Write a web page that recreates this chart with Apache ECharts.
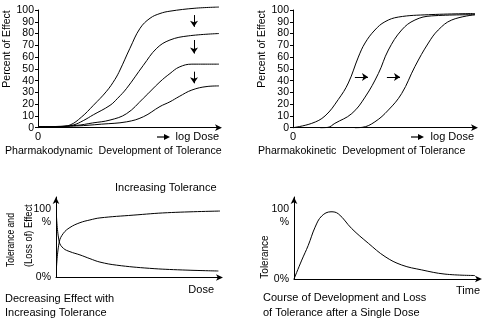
<!DOCTYPE html>
<html>
<head>
<meta charset="utf-8">
<script src="https://cdn.jsdelivr.net/npm/echarts@6/dist/echarts.min.js"></script>
<style>
  html, body { margin: 0; padding: 0; background: #fff; }
  #chart { width: 488px; height: 321px; }
</style>
</head>
<body>
<div id="chart"></div>
<script>
// Pharmacodynamic tolerance: effect vs. log dose, each repeat lowers the maximum effect
const pdCurve1 = [[0, 1], [12, 1], [17.7, 2.3], [24, 9], [30.6, 19], [37.9, 31], [42.5, 41], [45.3, 49], [50.8, 67.5], [56.4, 84.5], [61.9, 93], [67.4, 97], [72.9, 99], [86.7, 101.5], [100, 102.5]];
const pdCurve2 = [[0, 1], [12, 1], [19.5, 2.3], [25, 6], [30.6, 11], [39.8, 19], [44, 25], [49, 33.5], [58.2, 53], [65.6, 67.5], [72.9, 74.5], [83, 78], [100, 80]];
const pdCurve3 = [[0, 0.5], [21.4, 2], [30, 4], [39.8, 6.5], [49, 12], [58.2, 25], [67.4, 39], [72.9, 46], [78, 51.5], [85, 54], [100, 54]];
const pdCurve4 = [[0, 0.5], [21.4, 1.5], [35, 3], [49, 5], [58.2, 9.3], [67.4, 18], [72.9, 22], [78, 26.5], [85, 32], [93.4, 35], [100, 35.5]];
// down arrows between successive curves: [x, from, to]
const pdArrows = [[86.2, 95.7, 85.7], [86.2, 74.5, 63], [86.2, 47.6, 37.7]];

// Pharmacokinetic tolerance: same maximum, curve shifts to higher doses
const pkCurve1 = [[0, 0], [10.3, 3.7], [17.6, 10], [24.9, 24], [30.4, 38], [35.9, 60], [39.6, 72], [45, 83], [50.5, 90], [57.9, 94], [74.4, 96], [100, 97]];
const pkCurve2 = [[15, 0], [19.2, 0.3], [23, 3.7], [32.3, 12], [39.6, 26], [46.9, 46], [52.4, 66], [59.7, 83], [67, 91.5], [76.2, 95], [100, 96]];
const pkCurve3 = [[34, 0], [38, 0.3], [45, 5], [52.4, 15], [59.7, 29], [67, 52], [74.4, 72], [79.8, 83], [87.2, 91.5], [100, 96]];
// right arrows between curves: [y, from, to]
const pkArrows = [[43, 34, 41.2], [43, 51.6, 58.8]];

// Tolerance rises while the effect falls with continued dosing
const toleranceRise = [[0.3, 15], [2, 52], [4.5, 64.5], [8.5, 73], [14.6, 80], [20.7, 84], [26.8, 87], [47, 91], [68, 94.6], [100, 97]];
const effectFall = [[0.3, 89], [2, 52], [4.5, 42.6], [8.5, 37.7], [14.6, 33], [20.7, 27.5], [26.8, 22.5], [37, 18], [57, 13.4], [77, 11], [99, 9.5]];

// Tolerance after a single dose: quick build-up, slow decay
const singleDose = [[0, 0], [4.2, 27], [7.7, 48], [11.4, 74], [15, 90], [20, 96], [24, 93], [31.2, 72], [40.2, 51], [49.2, 32], [58.2, 20], [69, 13], [81.6, 7], [97.8, 5]];

// tick labels
const percentTicks = ['0', '10', '20', '30', '40', '50', '60', '70', '80', '90', '100'];
const doseOrigin = '0';
const pctLabelsBottom = { 0: '0%', 100: ' \n100\n%' };

const FONT = "'Liberation Sans', Arial, sans-serif";
const INK = '#000';
const UP = Math.PI / 2;

const chart = echarts.init(document.getElementById('chart'), null, { renderer: 'canvas' });

const axisLineArrow = { show: true, lineStyle: { color: INK, width: 1 }, symbol: ['none', 'arrow'], symbolSize: [5, 7], symbolOffset: [0, 3] };
const axisLinePlain = { show: true, lineStyle: { color: INK, width: 1 } };

function curve(data, idx) {
  return {
    type: 'line', data: data, xAxisIndex: idx, yAxisIndex: idx,
    smooth: 0.4, showSymbol: false, clip: false, silent: true,
    lineStyle: { color: INK, width: 1 }
  };
}

function percentAxis(idx) {
  return {
    gridIndex: idx, type: 'value', min: 0, max: 100, interval: 10,
    axisLine: axisLinePlain,
    axisTick: { show: true, length: 3, lineStyle: { color: INK } },
    splitLine: { show: false },
    axisLabel: {
      color: INK, fontFamily: FONT, fontSize: 10.5, margin: 4,
      formatter: v => percentTicks[Math.round(v / 10)]
    }
  };
}

function doseAxis(idx) {
  return {
    gridIndex: idx, type: 'value', min: 0, max: 100, interval: 100,
    axisLine: axisLineArrow, axisTick: { show: false }, splitLine: { show: false },
    axisLabel: {
      color: INK, fontFamily: FONT, fontSize: 11, margin: 4, showMaxLabel: false,
      formatter: v => (v === 0 ? doseOrigin : '')
    }
  };
}

function bottomYAxis(idx, max) {
  return {
    gridIndex: idx, type: 'value', min: 0, max: max, interval: 100,
    axisLine: { show: true, lineStyle: { color: INK, width: 1 }, symbol: ['none', 'arrow'], symbolSize: [5, 7] },
    axisTick: { show: false }, splitLine: { show: false },
    axisLabel: {
      color: INK, fontFamily: FONT, fontSize: 10.5, margin: 5, lineHeight: 13,
      showMaxLabel: false,
      formatter: v => pctLabelsBottom[v] || ''
    }
  };
}

function bottomXAxis(idx) {
  return {
    gridIndex: idx, type: 'value', min: 0, max: 100,
    axisLine: axisLineArrow, axisTick: { show: false }, splitLine: { show: false },
    axisLabel: { show: false }
  };
}

function arrowHead(x, y) {
  return { type: 'polygon', shape: { points: [[x, y - 3], [x + 6, y], [x, y + 3]] }, style: { fill: INK } };
}
function arrowShaft(x1, x2, y) {
  return { type: 'line', shape: { x1: x1, y1: y, x2: x2, y2: y }, style: { stroke: INK, lineWidth: 1.2 } };
}
function txt(text, x, y, extra, rotation, font, squeeze) {
  return {
    type: 'text', x: x, y: y, rotation: rotation || 0, scaleX: squeeze || 1,
    style: Object.assign({ text: text, fill: INK, font: font || ('11px ' + FONT), textVerticalAlign: 'middle' }, extra || {})
  };
}

const pdSeries = [pdCurve1, pdCurve2, pdCurve3, pdCurve4].map(d => curve(d, 0));
pdSeries[0].markLine = {
  silent: true, symbol: ['none', 'arrow'], symbolSize: 6,
  lineStyle: { color: INK, width: 1, type: 'solid' }, label: { show: false },
  data: pdArrows.map(a => [{ coord: [a[0], a[1]] }, { coord: [a[0], a[2]] }])
};
const pkSeries = [pkCurve1, pkCurve2, pkCurve3].map(d => curve(d, 1));
pkSeries[0].markLine = {
  silent: true, symbol: ['none', 'arrow'], symbolSize: 6,
  lineStyle: { color: INK, width: 1, type: 'solid' }, label: { show: false },
  data: pkArrows.map(a => [{ coord: [a[1], a[0]] }, { coord: [a[2], a[0]] }])
};

const TITLE_FONT = '10.6px ' + FONT;
const SIDE_FONT = '10.5px ' + FONT;

const option = {
  animation: false,
  backgroundColor: '#fff',
  grid: [
    { left: 38, top: 10, width: 181, height: 117.7 },
    { left: 293, top: 10, width: 182, height: 117.7 },
    { left: 56, top: 197, width: 164, height: 80.5 },
    { left: 294, top: 197, width: 185, height: 82 }
  ],
  xAxis: [doseAxis(0), doseAxis(1), bottomXAxis(2), bottomXAxis(3)],
  yAxis: [percentAxis(0), percentAxis(1), bottomYAxis(2, 117.5), bottomYAxis(3, 117.1)],
  series: [
    ...pdSeries,
    ...pkSeries,
    curve(toleranceRise, 2),
    curve(effectFall, 2),
    curve(singleDose, 3)
  ],
  graphic: [
    // top-left panel
    txt('Percent of Effect', 7, 49, { textAlign: 'center' }, UP, SIDE_FONT),
    txt('log Dose', 219, 137, { textAlign: 'right' }),
    arrowShaft(157, 165, 137), arrowHead(164, 137),
    txt('Pharmakodynamic  Development of Tolerance', 5, 151, null, 0, TITLE_FONT),
    // top-right panel
    txt('Percent of Effect', 262, 49, { textAlign: 'center' }, UP, SIDE_FONT),
    txt('log Dose', 474, 137, { textAlign: 'right' }),
    arrowShaft(411, 419, 137), arrowHead(418, 137),
    txt('Pharmakokinetic  Development of Tolerance', 258, 151, null, 0, TITLE_FONT),
    // bottom-left panel
    txt('Increasing Tolerance', 115, 188),
    txt('Tolerance and', 11, 267, null, UP, null, 0.78),
    txt('(Loss of) Effect', 29, 267, null, UP, null, 0.85),
    txt('Dose', 214, 290, { textAlign: 'right' }),
    txt('Decreasing Effect with', 5, 299),
    txt('Increasing Tolerance', 5, 313),
    // bottom-right panel
    txt('Tolerance', 265, 257, { textAlign: 'center' }, UP, '10px ' + FONT),
    txt('Time', 480, 291, { textAlign: 'right' }),
    txt('Course of Development and Loss', 263, 298),
    txt('of Tolerance after a Single Dose', 263, 313)
  ]
};

chart.setOption(option);
</script>
</body>
</html>
